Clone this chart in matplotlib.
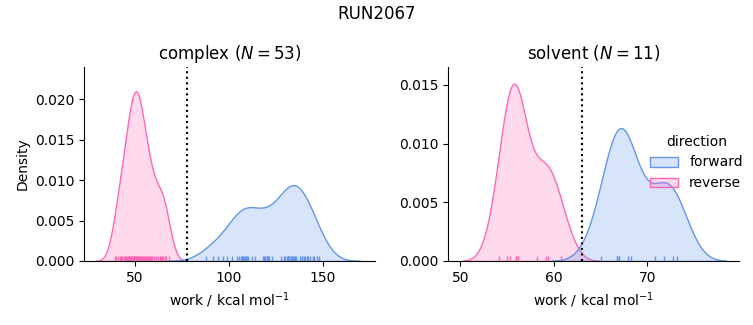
import numpy as np
import pandas as pd
import matplotlib
matplotlib.use("Agg")
import matplotlib.pyplot as plt
import seaborn as sns

# ---- data ----
complex_forward = [87.6, 91.7, 97.0, 99.1, 101.4, 104.4, 105.3, 106.2, 107.3, 108.5,
                   109.4, 112.0, 117.9, 118.6, 119.3, 120.0, 120.7, 121.4, 122.9, 127.5,
                   130.7, 131.2, 131.9, 132.8, 134.2, 135.1, 137.8, 138.8, 139.9, 141.3,
                   143.1, 144.5, 148.0,
                   133.5, 131.5, 142.0, 145.5, 147.0, 94.0, 134.5, 135.5, 133.0, 132.0,
                   130.0, 129.5, 139.0, 140.5, 109.0, 120.5, 107.0, 108.0, 110.0, 114.0]
complex_reverse = [39.2, 40.0, 41.0, 41.8, 42.5, 43.2, 43.9, 44.5, 45.1, 45.6,
                   46.1, 46.6, 47.0, 47.4, 47.8, 48.2, 48.6, 49.0, 49.4, 49.8,
                   50.2, 50.6, 51.0, 51.4, 51.8, 52.2, 52.6, 53.0, 53.4, 53.8,
                   54.2, 54.7, 55.2, 55.7, 56.2, 56.7, 57.3, 57.9, 58.5, 59.2,
                   60.0, 61.0, 62.0, 64.0, 65.0, 66.3, 68.1,
                   49.6, 50.4, 50.9, 63.5, 64.5, 66.0]
solvent_forward = [65.0, 66.8, 66.8, 67.0, 67.0, 67.9, 68.3, 70.8, 71.8, 72.7, 73.2]
solvent_reverse = [54.2, 54.95, 55.3, 56.0, 56.0, 56.2, 56.2, 58.2, 59.2, 59.4, 60.8]
complex_dg = 77.7
solvent_dg = 63.0
phases = ["complex", "solvent"]
phase_titles = ["complex ($N = 53$)", "solvent ($N = 11$)"]
directions = ["forward", "reverse"]

palette = {"forward": "cornflowerblue", "reverse": "hotpink"}

rows = []
for ph, fw, rv in [("complex", complex_forward, complex_reverse),
                   ("solvent", solvent_forward, solvent_reverse)]:
    rows += [(ph, "forward", v) for v in fw]
    rows += [(ph, "reverse", v) for v in rv]
df = pd.DataFrame(rows, columns=["phase", "direction", "work"])

g = sns.displot(data=df, x="work", hue="direction", col="phase", col_order=phases,
                hue_order=directions, kind="kde", fill=True, rug=True,
                palette=palette, facet_kws=dict(sharex=False, sharey=False),
                height=3, aspect=1.2)
fig = g.figure
fig.set_size_inches(7.53, 3.25)
fig.set_dpi(100)

ax1, ax2 = g.axes.flat
ax1.set_position([0.1116, 0.197, 0.3864, 0.597])
ax2.set_position([0.595, 0.197, 0.3864, 0.597])

for ax, dg, title in [(ax1, complex_dg, phase_titles[0]), (ax2, solvent_dg, phase_titles[1])]:
    ax.axvline(dg, color="black", linestyle=":", linewidth=1.5)
    ax.set_title(title, fontsize=12)
    ax.set_xlabel("work / kcal mol$^{-1}$")

ax1.set_ylabel("Density")
ax2.set_ylabel("")
ax1.set_xlim(22.9, 177.7)
ax2.set_xlim(48.7, 79.8)
ax1.set_ylim(0, 0.0240)
ax2.set_ylim(0, 0.01653)
ax1.set_yticks([0, 0.005, 0.010, 0.015, 0.020])
ax2.set_yticks([0, 0.005, 0.010, 0.015])
ax1.set_xticks([50, 100, 150])
ax2.set_xticks([50, 60, 70])
ax2.tick_params(labelleft=True)

sns.move_legend(g, "center left", bbox_to_anchor=(0.847, 0.5), frameon=False,
                title="direction")

fig.suptitle("RUN2067", fontsize=12, y=0.985)
fig.savefig("out.png", dpi=100)
